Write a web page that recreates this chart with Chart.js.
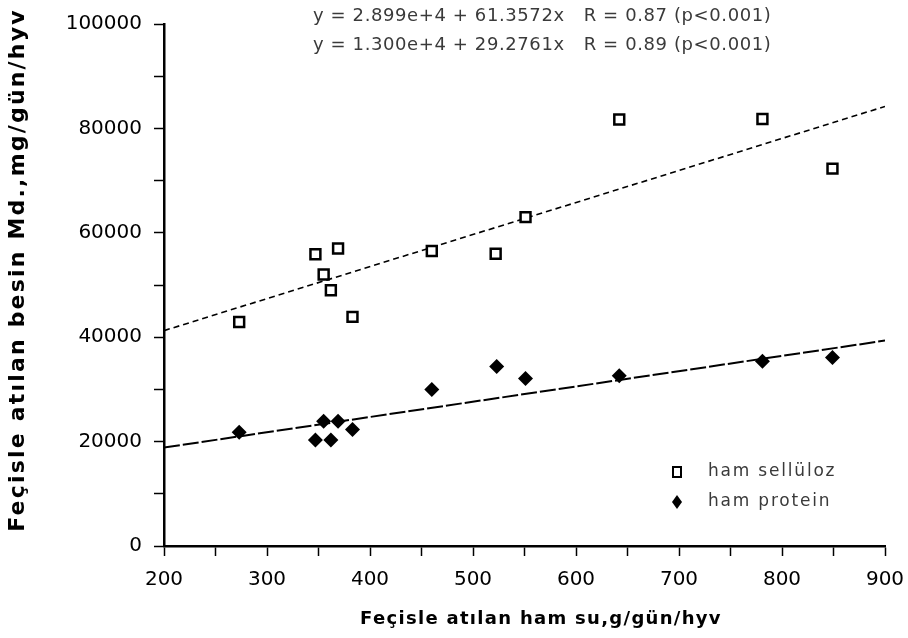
<!DOCTYPE html>
<html>
<head>
<meta charset="utf-8">
<script src="https://cdn.jsdelivr.net/npm/chart.js@4.4.0/dist/chart.umd.min.js"></script>
<style>
  html, body { margin: 0; padding: 0; background: #fff; }
  #wrap { width: 908px; height: 638px; position: relative; }
</style>
</head>
<body>
<div id="wrap"><canvas id="chart" width="908" height="638"></canvas></div>
<script>
// water in faeces, g/day/animal
const hamSu = [273, 347, 355, 362, 369, 383, 460, 522, 551, 642, 781, 849];
// ham selluloz, mg/day/animal
const hamSelluloz = [42900, 55900, 52000, 49000, 57000, 43900, 56500, 56000, 63000, 81700, 81800, 72300];
// ham protein, mg/day/animal
const hamProteinX = [273, 347, 355, 362, 369, 383, 460, 523, 551, 642, 781, 849];
const hamProtein = [21800, 20300, 23900, 20300, 23900, 22300, 30000, 34400, 32100, 32600, 35400, 36100];

// regression line ends
const fitX = [200, 900];
const fitSelluloz = [41260, 84210];
const fitProtein = [18860, 39350];

const eqSelluloz = "y = 2.899e+4 + 61.3572x   R = 0.87 (p<0.001)";
const eqProtein = "y = 1.300e+4 + 29.2761x   R = 0.89 (p<0.001)";

const xTitle = "Feçisle atılan ham su,g/gün/hyv";
const yTitle = "Feçisle atılan besin Md.,mg/gün/hyv";
const legendLabels = ["ham sellüloz", "ham protein"];

const toPoints = (xs, ys) => xs.map((x, i) => ({ x: x, y: ys[i] }));

const tickFont = { family: "DejaVu Sans", size: 20 };

// equations, legend and axis titles
const extras = {
  id: 'extras',
  afterDraw(chart) {
    const ctx = chart.ctx;
    ctx.save();
    ctx.fillStyle = '#3a3a3a';
    ctx.font = '18px "DejaVu Sans"';
    ctx.letterSpacing = '0.6px';
    ctx.textBaseline = 'middle';
    ctx.textAlign = 'left';
    ctx.fillText(eqSelluloz, 313, 16);
    ctx.fillText(eqProtein, 313, 45);

    // legend
    ctx.font = '17px "DejaVu Sans"';
    ctx.letterSpacing = '1.8px';
    ctx.fillText(legendLabels[0], 708, 472);
    ctx.fillText(legendLabels[1], 708, 502);
    ctx.letterSpacing = '0px';
    ctx.strokeStyle = '#000';
    ctx.lineWidth = 2;
    ctx.fillStyle = '#fff';
    ctx.fillRect(673, 467, 8, 10);
    ctx.strokeRect(673, 467, 8, 10);
    ctx.fillStyle = '#000';
    ctx.beginPath();
    ctx.moveTo(677, 495);
    ctx.lineTo(682, 502);
    ctx.lineTo(677, 509);
    ctx.lineTo(672, 502);
    ctx.closePath();
    ctx.fill();

    // x title
    ctx.font = 'bold 18px "DejaVu Sans"';
    ctx.letterSpacing = '1.3px';
    ctx.fillStyle = '#000';
    ctx.textAlign = 'center';
    ctx.fillText(xTitle, 541, 619);

    // y title
    ctx.font = 'bold 22px "DejaVu Sans"';
    ctx.letterSpacing = '2.2px';
    ctx.translate(18, 270);
    ctx.rotate(-Math.PI / 2);
    ctx.fillText(yTitle, 0, 0);
    ctx.restore();
  }
};

new Chart(document.getElementById('chart').getContext('2d'), {
  type: 'scatter',
  data: {
    datasets: [
      {
        label: legendLabels[0],
        data: toPoints(hamSu, hamSelluloz),
        pointStyle: 'rect',
        radius: 7,
        borderWidth: 2.5,
        borderColor: '#000',
        backgroundColor: '#fff'
      },
      {
        // centre dot of the square markers
        data: toPoints(hamSu, hamSelluloz),
        pointStyle: 'circle',
        radius: 1,
        borderWidth: 0,
        backgroundColor: '#000'
      },
      {
        label: legendLabels[1],
        data: toPoints(hamProteinX, hamProtein),
        pointStyle: 'rectRot',
        radius: 7.5,
        borderWidth: 0,
        borderColor: '#000',
        backgroundColor: '#000'
      },
      {
        type: 'line',
        data: toPoints(fitX, fitSelluloz),
        borderColor: '#000',
        borderWidth: 1.6,
        borderDash: [6, 4],
        pointRadius: 0,
        fill: false
      },
      {
        type: 'line',
        data: toPoints(fitX, fitProtein),
        borderColor: '#000',
        borderWidth: 2,
        borderDash: [16, 3],
        pointRadius: 0,
        fill: false
      }
    ]
  },
  options: {
    responsive: false,
    animation: false,
    layout: { padding: { top: 22, right: 23, left: 0, bottom: 0 } },
    plugins: {
      legend: { display: false },
      tooltip: { enabled: false }
    },
    scales: {
      x: {
        type: 'linear',
        min: 200,
        max: 900,
        border: { color: '#000', width: 2.5 },
        grid: { drawOnChartArea: false, color: '#000', tickLength: 10, tickWidth: 1.5 },
        ticks: {
          stepSize: 50,
          color: '#000',
          font: tickFont,
          padding: 12,
          maxRotation: 0,
          autoSkip: false,
          callback: v => (v % 100 === 0 ? v : '')
        },
        afterFit: s => { s.height = 92; s.paddingLeft = 0; s.paddingRight = 0; }
      },
      y: {
        min: 0,
        max: 100000,
        border: { color: '#000', width: 2.5 },
        grid: { drawOnChartArea: false, color: '#000', tickLength: 10, tickWidth: 1.5 },
        ticks: {
          stepSize: 10000,
          color: '#000',
          font: tickFont,
          padding: 12,
          autoSkip: false,
          callback: v => (v % 20000 === 0 ? v : '')
        },
        afterFit: s => { s.width = 164; }
      }
    }
  },
  plugins: [extras]
});
</script>
</body>
</html>
